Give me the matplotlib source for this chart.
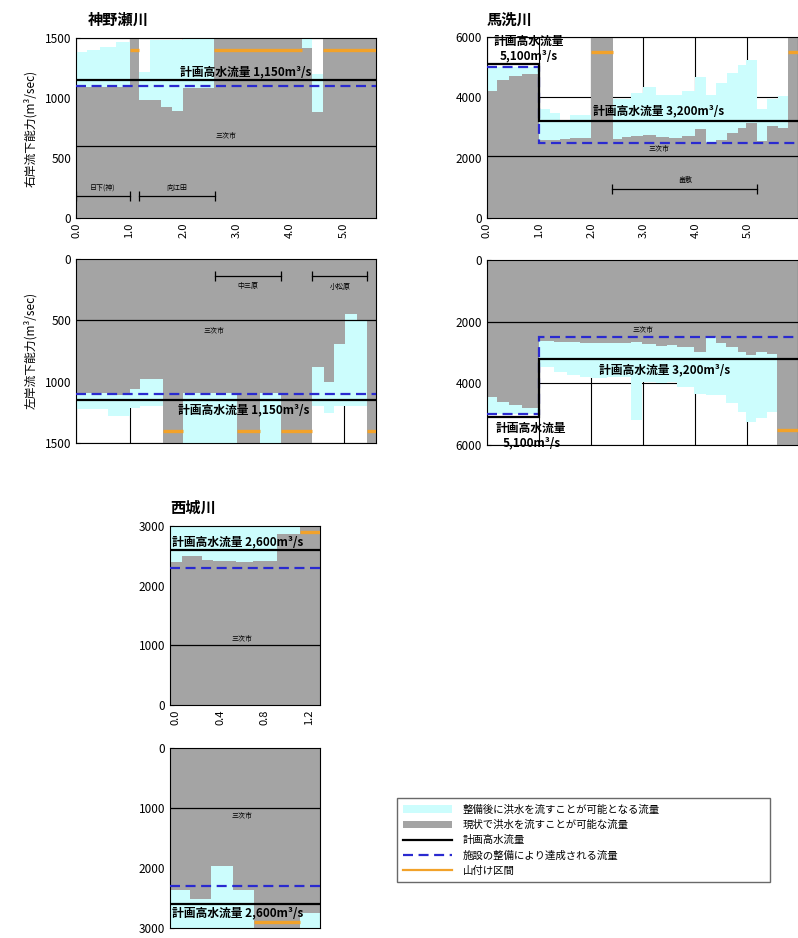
import matplotlib
matplotlib.use("Agg")
import matplotlib.pyplot as plt
from matplotlib.ticker import MultipleLocator, FormatStrFormatter
from matplotlib.lines import Line2D
from matplotlib.patches import Patch

plt.rcParams['font.family'] = ['Noto Sans CJK JP', 'DejaVu Sans']

M = None  # 山付け区間 (grey reaches the top)

# 神野瀬川 右岸
kan_r_edges = [0, 0.2, 0.45, 0.75, 1.0, 1.18, 1.39, 1.58, 1.8, 2.0, 2.57, 4.22, 4.41, 4.61, 5.6]
kan_r_now = [1090, 1090, 1090, 1090, M, 985, 985, 925, 895, 1080, M, 1415, 885, M]
kan_r_after = [1380, 1400, 1425, 1465, M, 1215, 1480, 1480, 1480, 1600, M, 1600, 1200, M]
# 神野瀬川 左岸
kan_l_edges = [0, 0.6, 1.0, 1.2, 1.62, 2.0, 3.0, 3.43, 3.82, 4.41, 4.63, 4.81, 5.03, 5.24, 5.44, 5.6]
kan_l_now = [1092, 1106, 1060, 980, M, 1095, M, 1095, M, 884, 1000, 695, 450, 495, M]
kan_l_after = [1225, 1280, 1215, 1200, M, 1600, M, 1600, M, 1195, 1255, 1200, 1195, 1195, M]
kan_q_edges = [0, 5.6]
kan_plan = [1150]
kan_fac = [1100]

# 馬洗川 右岸
ba_r_edges = [0, 0.2, 0.42, 0.67, 1.0, 1.2, 1.4, 1.6, 2.0, 2.42, 2.6, 2.76, 3.0, 3.24, 3.49,
              3.75, 4.0, 4.2, 4.39, 4.6, 4.81, 4.97, 5.19, 5.38, 5.58, 5.77, 6.0]
ba_r_now = [4200, 4590, 4700, 4780, 2590, 2600, 2630, 2660, M, 2620, 2700, 2720, 2750, 2700,
            2640, 2720, 2950, 2480, 2590, 2810, 2980, 3150, 2550, 3050, 2990, M]
ba_r_after = [5000, 5000, 5000, 5000, 3600, 3480, 3250, 3400, M, 3950, 3950, 4150, 4330, 4090,
              4090, 4200, 4680, 4080, 4470, 4800, 5080, 5250, 3600, 3950, 4060, M]
# 馬洗川 左岸
ba_l_edges = [0, 0.2, 0.42, 0.67, 1.0, 1.28, 1.54, 1.79, 2.0, 2.31, 2.76, 2.98, 3.24, 3.46,
              3.65, 3.97, 4.2, 4.39, 4.58, 4.81, 4.97, 5.16, 5.38, 5.56, 6.0]
ba_l_now = [4430, 4600, 4700, 4790, 2620, 2650, 2650, 2680, 2680, 2700, 2670, 2735, 2780,
            2760, 2810, 2970, 2510, 2700, 2810, 2970, 3080, 2970, 3060, M]
ba_l_after = [5000, 5000, 5000, 5000, 3460, 3620, 3730, 3790, 3840, 3790, 5200, 3950, 4000,
              3950, 4110, 4350, 4380, 4380, 4650, 4920, 5240, 5130, 4920, M]
ba_q_edges = [0, 1.0, 6.0]
ba_plan = [5100, 3200]
ba_fac = [5000, 2500]

# 西城川
sai_r_edges = [-0.05, 0.06, 0.24, 0.34, 0.54, 0.70, 0.91, 1.12, 1.3]
sai_r_now = [2390, 2490, 2430, 2410, 2400, 2420, 2870, M]
sai_r_after = [3100, 3100, 3100, 3100, 3100, 3100, 3100, M]
sai_l_edges = [-0.05, 0.13, 0.32, 0.52, 0.71, 1.12, 1.3]
sai_l_now = [2370, 2510, 1960, 2370, M, 2755]
sai_l_after = [3100, 3100, 3100, 3100, M, 3100]
sai_q_edges = [-0.05, 1.3]
sai_plan = [2600]
sai_fac = [2300]

CYAN = '#ccfdfd'
GREY = '#a4a4a4'
BLUE = '#2a2ad0'
ORANGE = '#f2a22a'

fig = plt.figure(figsize=(7.98, 9.38), dpi=100)
W, H = 798, 938


def add_ax(l, t, r, b):
    return fig.add_axes([l / W, 1 - b / H, (r - l) / W, (b - t) / H])


def draw(ax, edges, now, after, q_edges, plan, fac, city, top, yama, inv, xmax=None):
    big = top * 2
    now_v = [big if v is None else v for v in now]
    after_v = [big if v is None else v for v in after]
    ax.set_axisbelow(True)
    ax.grid(True, which='major', color='black', lw=0.8)
    ax.stairs(after_v, edges, fill=True, color=CYAN, zorder=1)
    ax.stairs(now_v, edges, fill=True, color=GREY, zorder=2)
    ax.axhline(city, color='black', lw=0.9, zorder=3)
    ax.stairs(fac, q_edges, baseline=None, color=BLUE, lw=1.6, ls=(0, (4.5, 2.5)), zorder=4)
    ax.stairs(plan, q_edges, baseline=None, color='black', lw=1.6, zorder=4)
    for i, v in enumerate(now):
        if v is None:
            ax.hlines(yama, edges[i], edges[i + 1], color=ORANGE, lw=2.4, zorder=5)
    ax.set_xlim(edges[0], edges[-1] if xmax is None else xmax)
    if inv:
        ax.set_ylim(top, 0)
        ax.xaxis.tick_top()
        ax.tick_params(axis='x', which='both', labeltop=False)
    else:
        ax.set_ylim(0, top)
    ax.tick_params(direction='in', which='both', length=3, width=0.8, labelsize=8.5)
    ax.tick_params(axis='x', which='minor', length=2)
    for s in ax.spines.values():
        s.set_linewidth(0.8)


def small(ax, x, y, s):
    ax.text(x, y, s, fontsize=5, ha='center', va='center', zorder=6)


def bracket(ax, x0, x1, y, ly, s):
    ax.plot([x0, x1], [y, y], color='black', lw=0.9, marker='|', ms=7, mew=0.9, zorder=6)
    small(ax, (x0 + x1) / 2, ly, s)


def big_text(ax, x, y, s, ha='center'):
    ax.text(x, y, s, fontsize=8.5, fontweight='bold', ha=ha, va='center', zorder=6)


def xticks(ax, major, minor, fmt, labels=True):
    ax.xaxis.set_major_locator(MultipleLocator(major))
    ax.xaxis.set_minor_locator(MultipleLocator(minor))
    ax.xaxis.set_major_formatter(FormatStrFormatter(fmt))
    if labels:
        for t in ax.get_xticklabels():
            t.set_rotation(90)
            t.set_fontsize(8)


# 神野瀬川
ax1 = add_ax(76, 38, 376, 218)
draw(ax1, kan_r_edges, kan_r_now, kan_r_after, kan_q_edges, kan_plan, kan_fac, 600, 1500, 1400, False)
ax1.yaxis.set_major_locator(MultipleLocator(500))
xticks(ax1, 1, 0.5, '%.1f')
big_text(ax1, 3.16, 1218, '計画高水流量 1,150m³/s')
small(ax1, 2.8, 680, '三次市')
bracket(ax1, 0.0, 1.0, 185, 250, '日下(神)')
bracket(ax1, 1.18, 2.6, 185, 250, '向江田')

ax2 = add_ax(76, 259, 376, 443)
draw(ax2, kan_l_edges, kan_l_now, kan_l_after, kan_q_edges, kan_plan, kan_fac, 500, 1500, 1400, True)
ax2.yaxis.set_major_locator(MultipleLocator(500))
xticks(ax2, 1, 0.5, '%.1f', labels=False)
big_text(ax2, 3.13, 1228, '計画高水流量 1,150m³/s')
small(ax2, 2.57, 590, '三次市')
bracket(ax2, 2.6, 3.83, 141, 220, '中三原')
bracket(ax2, 4.41, 5.44, 141, 230, '小松原')

# 馬洗川
ax3 = add_ax(487, 37, 798, 218)
draw(ax3, ba_r_edges, ba_r_now, ba_r_after, ba_q_edges, ba_plan, ba_fac, 2070, 6000, 5500, False, xmax=5.97)
ax3.yaxis.set_major_locator(MultipleLocator(2000))
xticks(ax3, 1, 0.5, '%.1f')
big_text(ax3, 0.8, 5850, '計画高水流量')
big_text(ax3, 0.8, 5360, '5,100m³/s')
big_text(ax3, 3.3, 3560, '計画高水流量 3,200m³/s')
small(ax3, 3.3, 2290, '三次市')
bracket(ax3, 2.4, 5.19, 950, 1260, '畠敷')

ax4 = add_ax(487, 260, 798, 445)
draw(ax4, ba_l_edges, ba_l_now, ba_l_after, ba_q_edges, ba_plan, ba_fac, 2000, 6000, 5500, True, xmax=5.97)
ax4.yaxis.set_major_locator(MultipleLocator(2000))
xticks(ax4, 1, 0.5, '%.1f', labels=False)
big_text(ax4, 3.4, 3570, '計画高水流量 3,200m³/s')
big_text(ax4, 0.85, 5460, '計画高水流量')
big_text(ax4, 0.85, 5930, '5,100m³/s')
small(ax4, 3.0, 2280, '三次市')

# 西城川
ax5 = add_ax(170, 526, 320, 705)
draw(ax5, sai_r_edges, sai_r_now, sai_r_after, sai_q_edges, sai_plan, sai_fac, 1000, 3000, 2900, False)
ax5.yaxis.set_major_locator(MultipleLocator(1000))
xticks(ax5, 0.4, 0.2, '%.1f')
big_text(ax5, -0.03, 2740, '計画高水流量 2,600m³/s', ha='left')
small(ax5, 0.6, 1100, '三次市')

ax6 = add_ax(170, 748, 320, 928)
draw(ax6, sai_l_edges, sai_l_now, sai_l_after, sai_q_edges, sai_plan, sai_fac, 1000, 3000, 2900, True)
ax6.yaxis.set_major_locator(MultipleLocator(1000))
xticks(ax6, 0.4, 0.2, '%.1f', labels=False)
big_text(ax6, -0.03, 2755, '計画高水流量 2,600m³/s', ha='left')
small(ax6, 0.6, 1130, '三次市')

# titles and axis labels
fig.text(88 / W, 1 - 20 / H, '神野瀬川', fontsize=11, fontweight='bold', va='center')
fig.text(487 / W, 1 - 20 / H, '馬洗川', fontsize=11, fontweight='bold', va='center')
fig.text(170 / W, 1 - 508 / H, '西城川', fontsize=11, fontweight='bold', va='center')
fig.text(30 / W, 1 - 128 / H, '右岸流下能力(m³/sec)', fontsize=8.5, rotation=90, ha='center', va='center')
fig.text(30 / W, 1 - 350 / H, '左岸流下能力(m³/sec)', fontsize=8.5, rotation=90, ha='center', va='center')

# legend
handles = [Patch(facecolor=CYAN, edgecolor='none'),
           Patch(facecolor=GREY, edgecolor='none'),
           Line2D([], [], color='black', lw=1.6),
           Line2D([], [], color=BLUE, lw=1.6, ls=(0, (4.5, 2.5))),
           Line2D([], [], color=ORANGE, lw=1.6)]
labels = ['整備後に洪水を流すことが可能となる流量',
          '現状で洪水を流すことが可能な流量',
          '計画高水流量',
          '施設の整備により達成される流量',
          '山付け区間']
fig.legend(handles, labels, loc='upper left', mode='expand',
           bbox_to_anchor=(397 / W, 1 - 892 / H, 373 / W, 94 / H),
           fontsize=7.5, frameon=True, fancybox=False, edgecolor='#444444',
           handlelength=4.7, handleheight=0.7, labelspacing=0.5, borderpad=0.6,
           handletextpad=1.0, borderaxespad=0)

fig.savefig('out.png', dpi=100)
